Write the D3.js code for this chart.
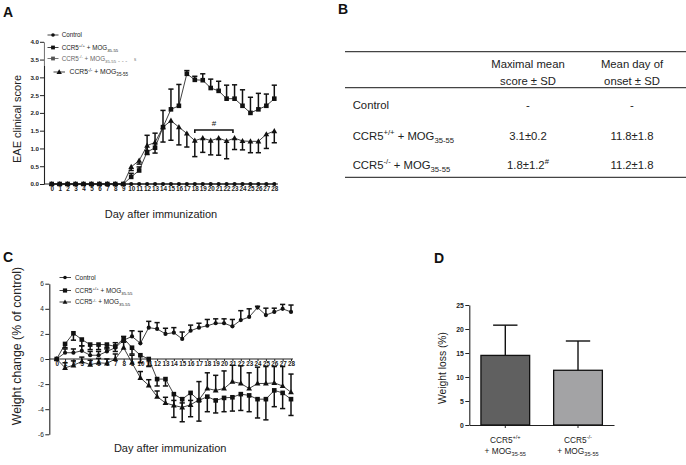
<!DOCTYPE html>
<html><head><meta charset="utf-8">
<script src="https://cdn.jsdelivr.net/npm/d3@7"></script>
<style>body{margin:0;background:#fff} svg{display:block;font-family:"Liberation Sans",Arial,sans-serif}</style>
</head><body><svg id="c" width="686" height="465"></svg>
<script>
// ---------- DATA ----------
const days = [0,1,2,3,4,5,6,7,8,9,10,11,12,13,14,15,16,17,18,19,20,21,22,23,24,25,26,27,28];
// Panel A: EAE clinical score
const controlA = [0,0,0,0,0,0,0,0,0,0,0,0,0,0,0,0,0,0,0,0,0,0,0,0,0,0,0,0,0];
const wtA    = [0,0,0,0,0,0,0,0,0,0,0.2,0.38,0.9,1.02,1.6,2.1,2.2,3.1,2.93,2.92,2.7,2.62,2.4,2.4,2.2,2.0,2.1,2.2,2.4];
const wtAErr = [0,0,0,0,0,0,0,0,0,0,0.1,0.1,0.47,0.41,0.47,0.57,0.6,0.09,0.1,0.18,0.25,0.27,0.38,0.39,0.45,0.44,0.45,0.33,0.38];
const koA    = [0,0,0,0,0,0,0,0,0,0,0.48,0.66,1.08,1.17,1.6,1.78,1.6,1.42,1.22,1.29,1.22,1.29,1.21,1.29,1.21,1.2,1.2,1.4,1.49];
const koAErr = [0,0,0,0,0,0,0,0,0,0,0.1,0.1,0.25,0.3,0.42,0.55,0.5,0.38,0.45,0.4,0.4,0.48,0.5,0.32,0.25,0.32,0.32,0.4,0.33];
const scoreTicks = [0,0.5,1,1.5,2,2.5,3,3.5,4];
const sigFrom = 18, sigTo = 22.8, sigLevel = 1.52;
// Panel C: weight change
const controlC    = [0,0.5,0.5,0.65,0.3,0.3,0.6,0.9,1.5,1.8,1.25,2.5,2.4,2.0,2.1,1.6,2.25,2.5,2.65,2.85,2.85,2.6,3.1,3.35,4.1,3.5,3.75,4.0,3.75];
const controlCErr = [0,0.3,0.3,0.4,0.3,0.3,0.3,0.4,0.3,0.45,0.95,0.5,0.5,0.45,0.4,0.55,0.45,0.35,0.5,0.35,0.35,0.55,0.75,0.65,0.1,0.55,0.3,0.35,0.55];
const wtC    = [0,1.2,2.05,1.55,1.15,1.15,1.15,1.0,1.65,0.9,0.3,0.0,-1.6,-1.6,-2.8,-3.2,-2.7,-3.3,-3.0,-3.3,-3.1,-3.05,-2.8,-2.9,-3.2,-3.2,-2.5,-2.7,-3.2];
const wtCErr = [0,0.3,0.55,0.5,0.4,0.4,0.35,0.4,0.3,0.5,0.6,0.6,0.55,0.55,1.85,1.8,1.9,1.65,1.2,1.0,1.1,1.1,1.3,1.3,1.5,1.65,1.3,1.25,1.3];
const koC    = [0,-0.7,-0.5,-0.2,-0.45,-0.3,-0.35,0.0,0.9,-0.3,-1.5,-2.1,-3.0,-3.5,-3.7,-3.85,-3.65,-3.25,-2.35,-2.5,-2.35,-1.8,-1.95,-2.35,-1.95,-1.95,-1.9,-2.15,-2.65];
const koCErr = [0,0.4,0.35,0.35,0.35,0.35,0.35,0.4,0.45,0.6,0.5,0.45,0.45,0.45,0.4,0.35,0.35,1.45,1.25,1.2,1.4,1.3,1.4,1.25,1.3,1.35,1.3,1.55,1.45];
const weightTicks = [-6,-4,-2,0,2,4,6];
// Panel D: weight loss
const lossGroups = ["wt","ko"];
const lossMean = [14.5,11.4];
const lossSD = [6.3,6.1];
const lossTicks = [0,5,10,15,20,25];
const lossColors = ["#606060","#a3a3a5"];
// Panel B: table
const tableHeaders = [["Maximal mean","score \u00b1 SD"],["Mean day of","onset \u00b1 SD"]];
const tableMax = ["-","3.1\u00b10.2","1.8\u00b11.2"];
const tableOnset = ["-","11.8\u00b11.8","11.2\u00b11.8"];

// ---------- helpers ----------
const svg = d3.select("#c");
const FONT = '"Liberation Sans",Arial,sans-serif';
const wtLabel = [["CCR5",""],["+/+","sup"],[" + MOG",""],["35-55","sub"]];
const koLabel = [["CCR5",""],["-/-","sup"],[" + MOG",""],["35-55","sub"]];

function rich(t, parts, size){
  let cur = 0;
  parts.forEach(([txt,type])=>{
    let target = 0, fs = size;
    if(type==="sup"){target = -size*0.38; fs = size*0.68;}
    if(type==="sub"){target = size*0.3; fs = size*0.68;}
    const ts = t.append("tspan").text(txt).attr("font-size",fs);
    if(target!==cur) ts.attr("dy", target-cur);
    cur = target;
  });
  return t;
}
function txt(g, x, y, s, size, opts={}){
  return g.append("text").attr("x",x).attr("y",y).attr("font-size",size)
    .attr("text-anchor",opts.anchor||"start").attr("font-weight",opts.bold?"bold":"normal")
    .attr("fill",opts.fill||"#222").text(s);
}
function marker(g, type, x, y, s, fill){
  fill = fill||"#111";
  if(type==="circle") g.append("circle").attr("cx",x).attr("cy",y).attr("r",s*0.5).attr("fill",fill);
  else if(type==="square") g.append("rect").attr("x",x-s/2).attr("y",y-s/2).attr("width",s).attr("height",s).attr("fill",fill);
  else g.append("path").attr("d",`M${x},${y-s*0.62}L${x+s*0.58},${y+s*0.42}L${x-s*0.58},${y+s*0.42}Z`).attr("fill",fill);
}
function series(g, xs, ys, vals, errs, dir, type, ms, lw){
  const pts = days.map((d,i)=>({d, v:vals[i], e: errs?errs[i]:0}));
  g.append("path").datum(pts).attr("fill","none").attr("stroke","#111").attr("stroke-width",lw)
    .attr("d", d3.line().x(p=>xs(p.d)).y(p=>ys(p.v)));
  if(errs){
    pts.filter(p=>p.e>0).forEach(p=>{
      const x = xs(p.d), y0 = ys(p.v), y1 = ys(p.v + dir*p.e);
      g.append("line").attr("x1",x).attr("x2",x).attr("y1",y0).attr("y2",y1).attr("stroke","#111").attr("stroke-width",1.5);
      g.append("line").attr("x1",x-2.6).attr("x2",x+2.6).attr("y1",y1).attr("y2",y1).attr("stroke","#111").attr("stroke-width",1.5);
    });
  }
  pts.forEach(p=>marker(g, type, xs(p.d), ys(p.v), ms));
}
function styleAxis(ax, fs, bold){
  ax.attr("font-family",null).attr("font-size",fs);
  ax.selectAll("text").attr("font-weight",bold?"bold":"normal").attr("fill","#222").attr("font-family",FONT);
  ax.selectAll("line").attr("stroke","#222");
  ax.select(".domain").attr("stroke","#222").attr("stroke-width",1.1);
}

// ---------- Panel A ----------
const gA = svg.append("g");
txt(gA, 3, 17, "A", 14, {bold:true, fill:"#111"});
const xA = d3.scaleLinear().domain([0,28]).range([51.7,274.3]);
const yA = d3.scaleLinear().domain([0,4]).range([184,41.8]);
const axAy = gA.append("g").attr("transform","translate(44,0)")
  .call(d3.axisLeft(yA).tickValues(scoreTicks).tickFormat(d3.format(".1f")).tickSize(4).tickPadding(1).tickSizeOuter(0));
styleAxis(axAy, 6.2, true);
const axAx = gA.append("g").attr("transform","translate(0,184)")
  .call(d3.axisBottom(xA).tickValues(days).tickFormat(d3.format("d")).tickSize(2).tickPadding(1).tickSizeOuter(0));
styleAxis(axAx, 6.3, true);
axAx.select(".domain").remove();
gA.append("line").attr("x1",44).attr("x2",278).attr("y1",184).attr("y2",184).attr("stroke","#222").attr("stroke-width",1.2);
series(gA, xA, yA, controlA, null, 0, "circle", 4.2, 1);
series(gA, xA, yA, wtA, wtAErr, 1, "square", 4.6, 0.8);
series(gA, xA, yA, koA, koAErr, -1, "triangle", 5, 0.8);
// significance bracket
gA.append("path").attr("fill","none").attr("stroke","#111").attr("stroke-width",1.6)
  .attr("d",`M${xA(sigFrom)},${yA(sigLevel)+3}V${yA(sigLevel)}H${xA(sigTo)}V${yA(sigLevel)+3}`);
txt(gA, (xA(sigFrom)+xA(sigTo))/2, yA(sigLevel)-4, "#", 8, {anchor:"middle", fill:"#111"});
// axis titles
txt(gA, (44+278)/2, 218, "Day after immunization", 11, {anchor:"middle", fill:"#222"});
gA.append("text").attr("transform","translate(21,119) rotate(-90)").attr("text-anchor","middle")
  .attr("font-size",11).attr("fill","#222").text("EAE clinical score");
// legend (with white backing over axis top)
const lgA = gA.append("g");
lgA.append("rect").attr("x",44.6).attr("y",27).attr("width",100).attr("height",39).attr("fill","#fff");
[[35,"circle",null,"Control"],[47.5,"square",wtLabel],[58.5,"square",koLabel]].forEach(([y,type,parts,label],i)=>{
  const col = i===2 ? "#555" : "#111";
  lgA.append("line").attr("x1",47.5).attr("x2",58.5).attr("y1",y).attr("y2",y).attr("stroke",col).attr("stroke-width",0.8);
  marker(lgA, type, 53, y, type==="circle"?3.6:3.8, col);
  const t = lgA.append("text").attr("x",61.7).attr("y",y+2.2).attr("font-size",6.3).attr("fill",i===2?"#666":"#222");
  if(parts) rich(t, parts, 6.3); else t.text(label);
});
txt(lgA, 118, 63, "- - -", 6, {fill:"#777"});
txt(lgA, 134, 60.5, "s", 4.5, {fill:"#777"});
lgA.append("line").attr("x1",53.5).attr("x2",65).attr("y1",72).attr("y2",72).attr("stroke","#111").attr("stroke-width",0.8);
marker(lgA, "triangle", 59.2, 72, 4.6);
rich(lgA.append("text").attr("x",69.5).attr("y",74.4).attr("font-size",6.8).attr("fill","#222"), koLabel, 6.8);

// ---------- Panel B ----------
const gB = svg.append("g");
txt(gB, 338, 13.5, "B", 14, {bold:true, fill:"#111"});
const colX = [352.7, 528, 632];
[51.7, 87.7, 177.3].forEach(y=>gB.append("line").attr("x1",345).attr("x2",686).attr("y1",y).attr("y2",y)
  .attr("stroke","#444").attr("stroke-width",1.3));
tableHeaders.forEach((h,i)=>{
  txt(gB, colX[i+1], 67.8, h[0], 11.3, {anchor:"middle"});
  txt(gB, colX[i+1], 84.5, h[1], 11.3, {anchor:"middle"});
});
const rowY = [108.5, 139.5, 168.5];
txt(gB, colX[0], rowY[0], "Control", 11.3);
rich(gB.append("text").attr("x",colX[0]).attr("y",rowY[1]).attr("font-size",11.3).attr("fill","#222"), wtLabel, 11.3);
rich(gB.append("text").attr("x",colX[0]).attr("y",rowY[2]).attr("font-size",11.3).attr("fill","#222"), koLabel, 11.3);
tableMax.forEach((s,i)=>{
  const t = gB.append("text").attr("x",colX[1]).attr("y",rowY[i]).attr("font-size",11.3).attr("fill","#222").attr("text-anchor","middle");
  if(i===2) rich(t, [[s,""],["#","sup"]], 11.3); else t.text(s);
});
tableOnset.forEach((s,i)=>txt(gB, colX[2], rowY[i], s, 11.3, {anchor:"middle"}));

// ---------- Panel C ----------
const gC = svg.append("g");
txt(gC, 3, 262, "C", 14, {bold:true, fill:"#111"});
const xC = d3.scaleLinear().domain([0,28]).range([56.7,291]);
const yC = d3.scaleLinear().domain([-6,6]).range([434.3,283.7]);
const axCy = gC.append("g").attr("transform","translate(49.3,0)")
  .call(d3.axisLeft(yC).tickValues(weightTicks).tickFormat(d=>String(d)).tickSize(4).tickPadding(1.5).tickSizeOuter(0));
styleAxis(axCy, 6.5, false);
const axCx = gC.append("g").attr("transform",`translate(0,${yC(0)})`)
  .call(d3.axisBottom(xC).tickValues(days).tickFormat(d3.format("d")).tickSize(2).tickPadding(1).tickSizeOuter(0));
styleAxis(axCx, 6.3, true);
axCx.select(".domain").remove();
gC.append("line").attr("x1",49.3).attr("x2",293).attr("y1",yC(0)).attr("y2",yC(0)).attr("stroke","#222").attr("stroke-width",1.1);
series(gC, xC, yC, controlC, controlCErr, 1, "circle", 4.2, 0.8);
series(gC, xC, yC, wtC, wtCErr, -1, "square", 4.6, 0.8);
series(gC, xC, yC, koC, koCErr, 1, "triangle", 5, 0.8);
txt(gC, (49.3+291)/2, 452, "Day after immunization", 11, {anchor:"middle"});
gC.append("text").attr("transform","translate(21,346) rotate(-90)").attr("text-anchor","middle")
  .attr("font-size",12.3).attr("fill","#222").text("Weight change (% of control)");
const lgC = gC.append("g");
[[277.5,"circle",null,"Control"],[290.5,"square",wtLabel],[302,"triangle",koLabel]].forEach(([y,type,parts,label])=>{
  lgC.append("line").attr("x1",59.5).attr("x2",71).attr("y1",y).attr("y2",y).attr("stroke","#111").attr("stroke-width",0.8);
  marker(lgC, type, 65, y, type==="circle"?3.6:4.2);
  const t = lgC.append("text").attr("x",75).attr("y",y+2.3).attr("font-size",6.4).attr("fill","#222");
  if(parts) rich(t, parts, 6.4); else t.text(label);
});

// ---------- Panel D ----------
const gD = svg.append("g");
txt(gD, 434, 263, "D", 14, {bold:true, fill:"#111"});
const yD = d3.scaleLinear().domain([0,25]).range([425,305]);
const xD = d3.scaleBand().domain(lossGroups).range([469.3,614]).paddingInner(0.33).paddingOuter(0.16);
const axDy = gD.append("g").attr("transform","translate(469.3,0)")
  .call(d3.axisLeft(yD).tickValues(lossTicks).tickFormat(d3.format("d")).tickSize(4).tickPadding(1.5).tickSizeOuter(0));
styleAxis(axDy, 6.8, true);
const axDx = gD.append("g").attr("transform","translate(0,425)")
  .call(d3.axisBottom(xD).tickFormat("").tickSize(3).tickSizeOuter(0));
styleAxis(axDx, 7, false);
lossGroups.forEach((g,i)=>{
  const x = xD(g), w = xD.bandwidth(), cx = x + w/2;
  gD.append("line").attr("x1",cx).attr("x2",cx).attr("y1",yD(lossMean[i])).attr("y2",yD(lossMean[i]+lossSD[i])).attr("stroke","#111").attr("stroke-width",1.4);
  gD.append("line").attr("x1",cx-w/4).attr("x2",cx+w/4).attr("y1",yD(lossMean[i]+lossSD[i])).attr("y2",yD(lossMean[i]+lossSD[i])).attr("stroke","#111").attr("stroke-width",1.4);
  gD.append("rect").attr("x",x).attr("y",yD(lossMean[i])).attr("width",w).attr("height",yD(0)-yD(lossMean[i]))
    .attr("fill",lossColors[i]).attr("stroke","#111").attr("stroke-width",1.3);
  const lab = i===0 ? [["CCR5",""],["+/+","sup"]] : [["CCR5",""],["-/-","sup"]];
  rich(gD.append("text").attr("x",cx).attr("y",442.5).attr("text-anchor","middle").attr("font-size",8.3).attr("fill","#222"), lab, 8.3);
  rich(gD.append("text").attr("x",cx).attr("y",453.5).attr("text-anchor","middle").attr("font-size",8.3).attr("fill","#222"), [["+ MOG",""],["35-55","sub"]], 8.3);
});
gD.append("text").attr("transform","translate(446,368) rotate(-90)").attr("text-anchor","middle")
  .attr("font-size",10.3).attr("fill","#222").text("Weight loss (%)");
</script></body></html>
